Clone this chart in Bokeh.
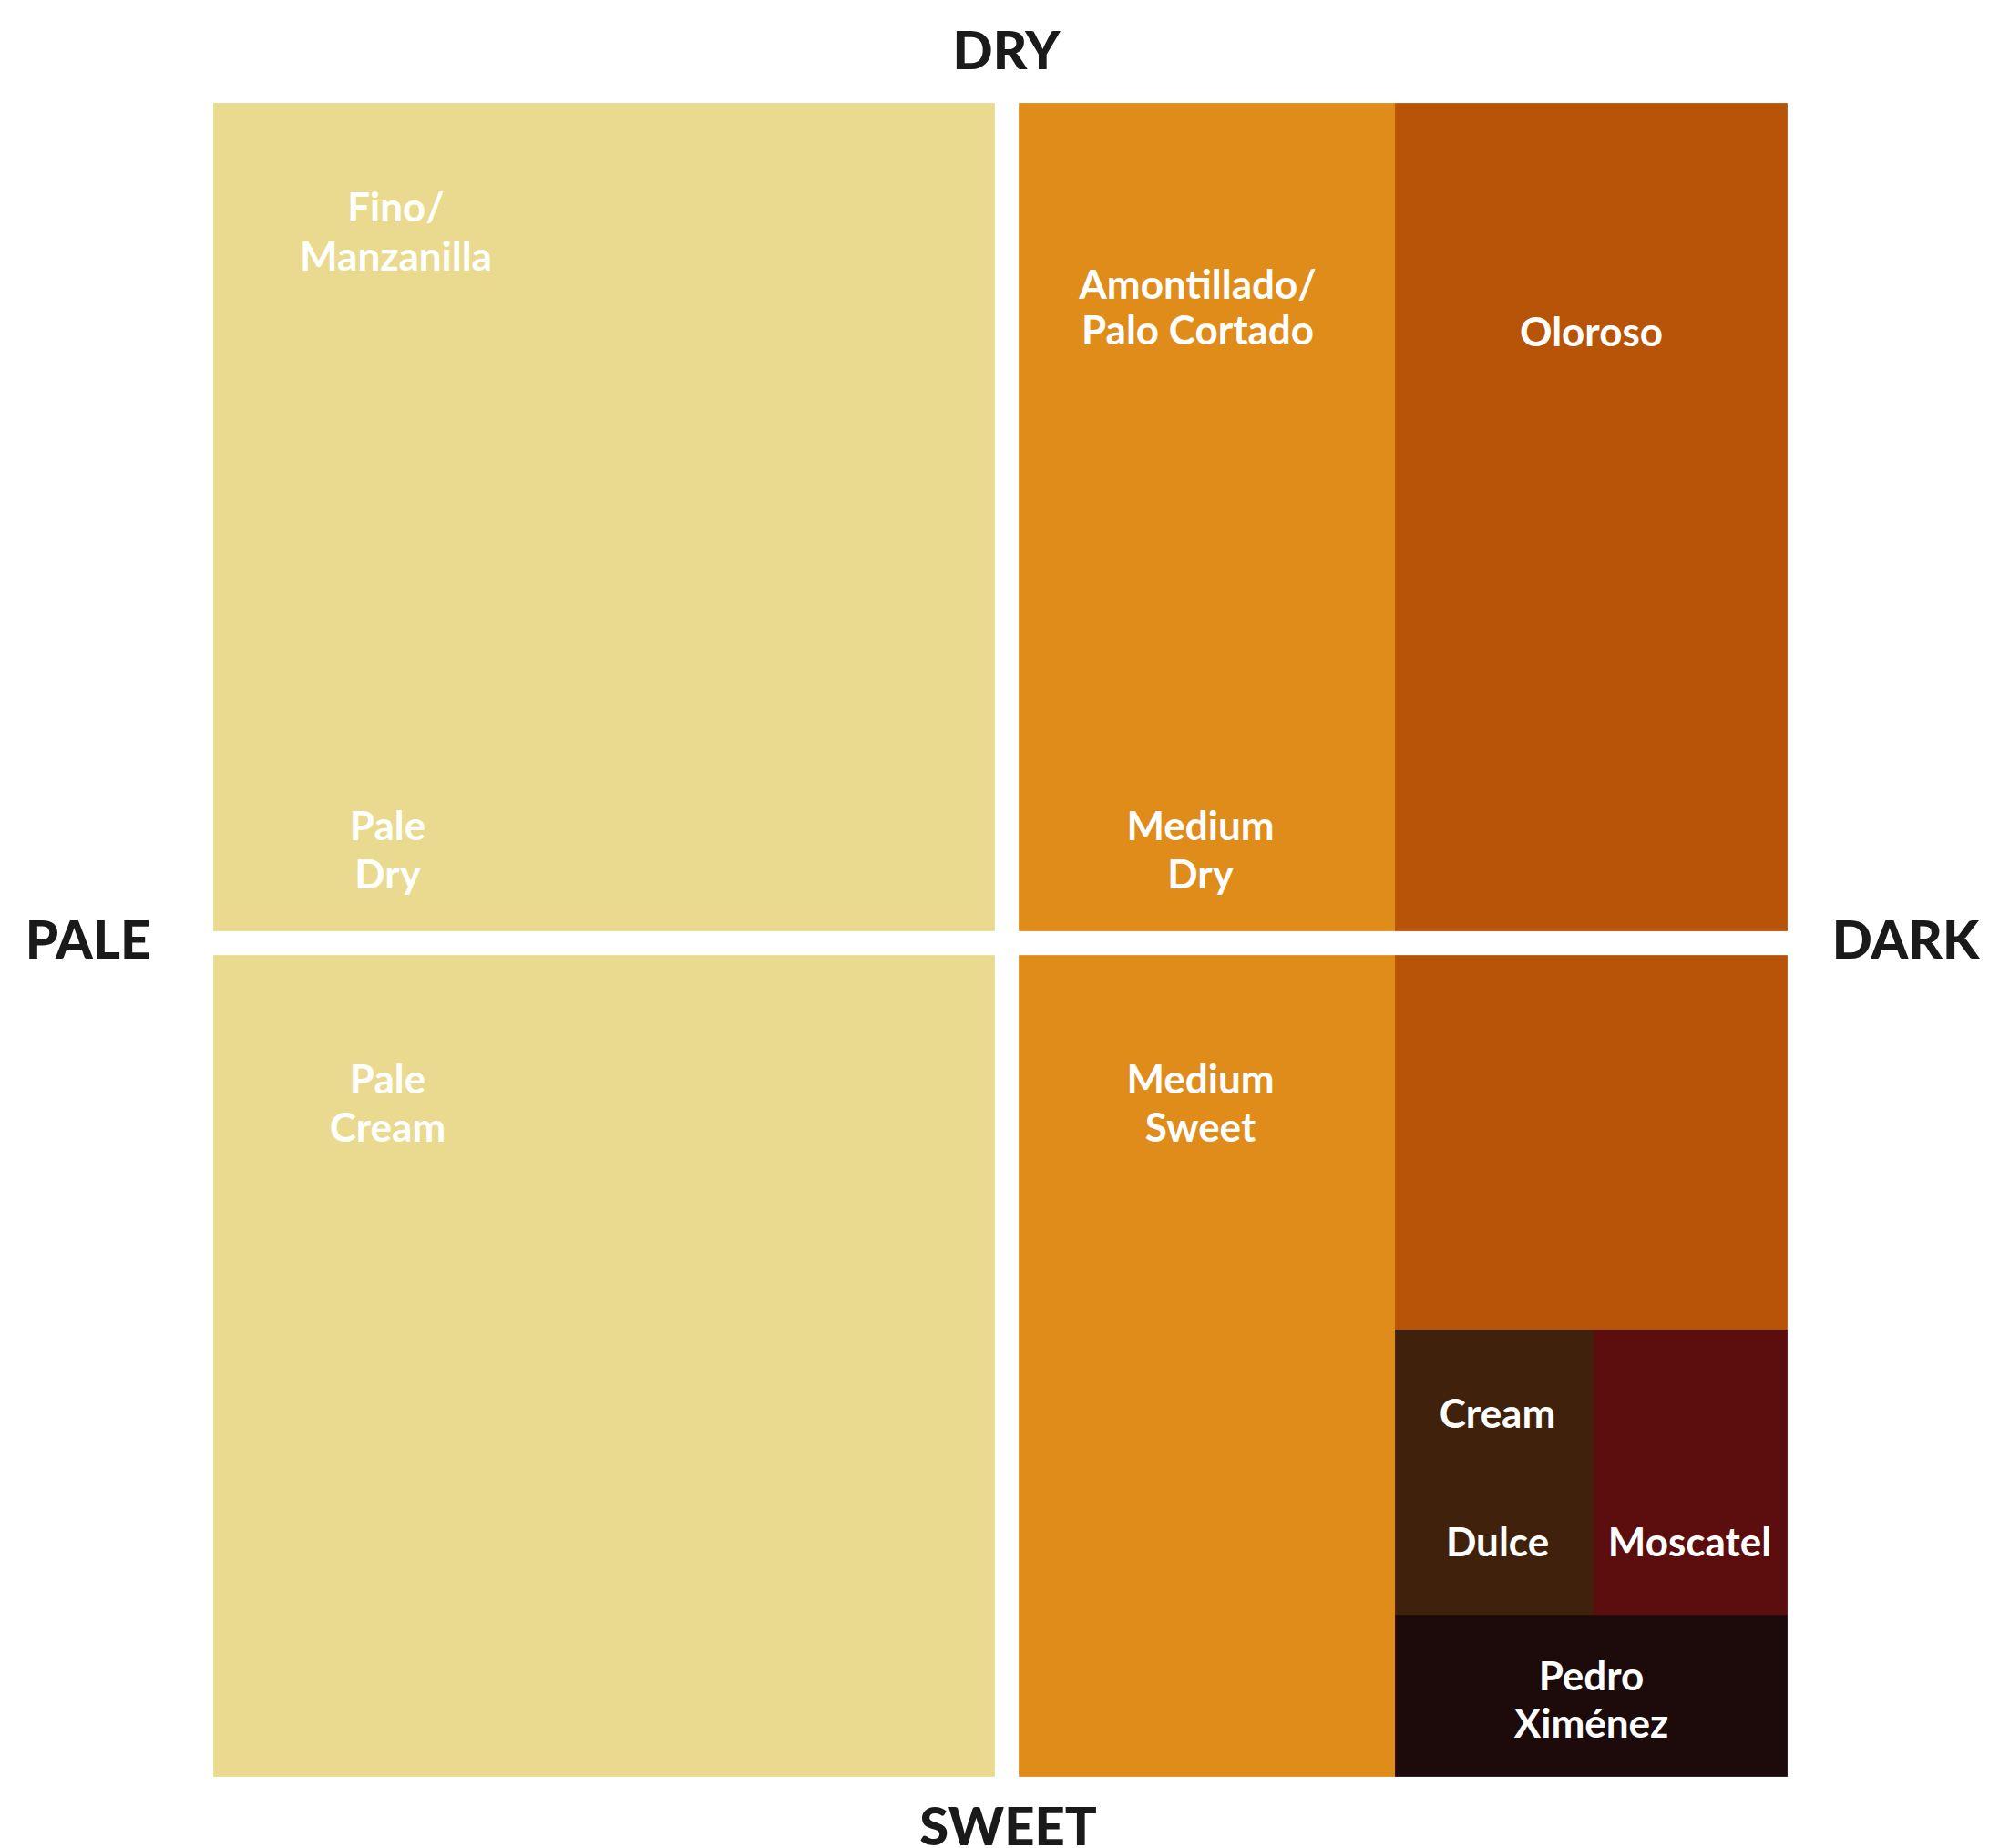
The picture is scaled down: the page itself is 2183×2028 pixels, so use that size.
from bokeh.plotting import figure
from bokeh.models import Range1d, ColumnDataSource
from bokeh.core.properties import value
from bokeh.embed import file_html
from bokeh.resources import INLINE

# ---- data (units: x 0 = palest .. 100 = darkest, y 0 = sweetest .. 100 = driest)
block_names = ["Pale Dry", "Pale Cream", "Medium Dry", "Oloroso",
               "Medium Sweet", "Dark Sweet", "Cream", "Moscatel", "Pedro Ximénez"]
block_left = [0.0, 0.0, 51.19, 75.10, 51.19, 75.10, 75.10, 87.72, 75.10]
block_right = [49.62, 49.62, 75.10, 100.0, 75.10, 100.0, 87.72, 100.0, 100.0]
block_bottom = [50.54, 0.0, 50.54, 50.54, 0.0, 26.69, 9.64, 9.64, 0.0]
block_top = [100.0, 49.07, 100.0, 100.0, 49.07, 49.07, 26.69, 26.69, 9.64]
block_colors = ["#E9DA8F", "#E9DA8F", "#E08C1A", "#B85407",
                "#E08C1A", "#B85407", "#40210C", "#5C0E0F", "#1D0A0B"]

label_lines = ["Fino/", "Manzanilla", "Pale", "Dry", "Pale", "Cream",
               "Amontillado/", "Palo Cortado", "Oloroso", "Medium", "Dry",
               "Medium", "Sweet", "Cream", "Dulce", "Moscatel", "Pedro", "Ximénez"]
label_x = [11.58, 11.58, 11.06, 11.06, 11.06, 11.06,
           62.54, 62.54, 87.55, 62.71, 62.71,
           62.71, 62.71, 81.59, 81.59, 93.80, 87.55, 87.55]
label_y = [92.92, 90.03, 55.99, 53.10, 40.80, 37.91,
           88.29, 85.57, 85.46, 55.99, 53.10,
           40.80, 37.91, 20.86, 13.18, 13.18, 5.17, 2.34]

axis_words = ["DRY", "SWEET", "PALE", "DARK"]
axis_x = [50.38, 50.49, -7.99, 107.53]
axis_y = [102.12, -4.03, 48.97, 48.97]

# ---- layout (page pixels)
ORIGIN = 0
W, H = 2183, 2028
CH_LEFT, CH_RIGHT, CH_TOP, CH_BOTTOM = 234, 1961, 113, 1949
PX_X = (CH_RIGHT - CH_LEFT) / 100.0
PX_Y = (CH_BOTTOM - CH_TOP) / 100.0
LABEL_SHIFT = 17 / PX_Y   # baseline correction for the renderer
AXIS_SHIFT = 21 / PX_Y

x_range = Range1d((ORIGIN - CH_LEFT) / PX_X, (ORIGIN + W - CH_LEFT) / PX_X)
y_range = Range1d((CH_BOTTOM - (ORIGIN + H)) / PX_Y, (CH_BOTTOM - ORIGIN) / PX_Y)

p = figure(width=W, height=H, x_range=x_range, y_range=y_range,
           output_backend="svg", toolbar_location=None, min_border=0)
p.axis.visible = False
p.grid.visible = False
p.outline_line_color = None
p.background_fill_color = "white"
p.border_fill_color = "white"

blocks = ColumnDataSource(dict(name=block_names, left=block_left, right=block_right,
                               bottom=block_bottom, top=block_top, color=block_colors))
p.quad(left="left", right="right", bottom="bottom", top="top", fill_color="color",
       line_color="color", line_width=0.8, source=blocks)

labels = ColumnDataSource(dict(x=label_x, y=[v + LABEL_SHIFT for v in label_y],
                               text=label_lines))
p.text(x="x", y="y", text="text", source=labels, text_align="center",
       text_baseline="alphabetic", text_font=value("Lato"), text_font_style="bold",
       text_font_size="44px", text_color="white")

axes = ColumnDataSource(dict(x=axis_x, y=[v + AXIS_SHIFT for v in axis_y],
                             text=axis_words))
p.text(x="x", y="y", text="text", source=axes, text_align="center",
       text_baseline="alphabetic", text_font=value("Lato Black"), text_font_style="bold",
       text_font_size="58px", text_color="#1A1A1A")

open("out.html", "w").write(file_html(p, INLINE))
